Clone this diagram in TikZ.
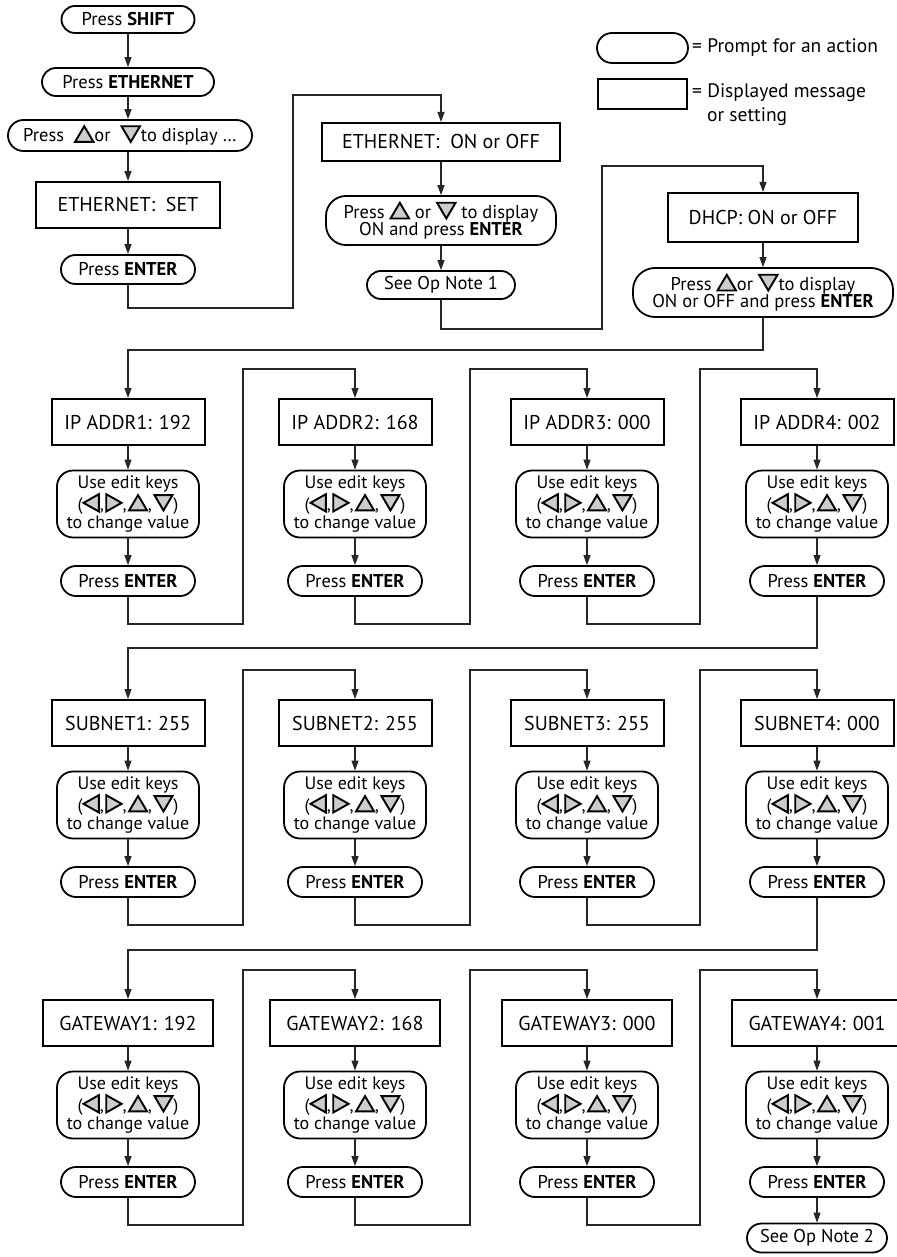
\documentclass[tikz,border=0pt]{standalone}
\usepackage{fontspec}
\setmainfont{PT Sans}
\usetikzlibrary{shapes.misc,arrows.meta}
\tikzset{
  tri/.style={draw=black,line width=1.9pt,fill=black!20,line join=miter,sharp corners,solid},
}
\newcommand{\TriUp}{\tikz[baseline=0pt]\path[tri] (0em,0em)--(1em,0em)--(0.5em,0.85em)--cycle;}
\newcommand{\TriDn}{\tikz[baseline=0pt]\path[tri] (0em,0.85em)--(1em,0.85em)--(0.5em,0em)--cycle;}
\newcommand{\TriLt}{\tikz[baseline=0pt]\path[tri] (0em,0.42em)--(0.85em,0.9em)--(0.85em,-0.06em)--cycle;}
\newcommand{\TriRt}{\tikz[baseline=0pt]\path[tri] (0em,0.9em)--(0.85em,0.42em)--(0em,-0.06em)--cycle;}
\newcommand{\EditKeys}{Use edit keys\\(\TriLt,\hspace{1.5pt}\TriRt,\hspace{1.5pt}\TriUp,\hspace{1.5pt}\TriDn)\\to change value}
\begin{document}
\begin{tikzpicture}[x=1pt,y=-1pt,
  prompt/.style={draw=black,line width=1.8pt,rectangle,rounded corners=14pt,
     minimum height=28pt,inner xsep=0pt,inner ysep=2pt,font=\fontsize{18.5}{19}\selectfont},
  rprompt/.style={draw=black,line width=1.8pt,rectangle,rounded corners=18pt,align=center,
     inner xsep=2pt,inner ysep=1pt,font=\fontsize{18.5}{17}\selectfont},
  msg/.style={draw=black,line width=2pt,rectangle,minimum height=46pt,inner xsep=4pt,
     font=\fontsize{20}{22}\selectfont},
  legtext/.style={anchor=west,font=\fontsize{19.5}{20}\selectfont,inner sep=0pt},
  conn/.style={draw=black!85,line width=1.1pt,-{Triangle[length=10pt,width=7pt]}},
]
\useasboundingbox (0,0) rectangle (896,1257);

% legend
\node[prompt,minimum width=91pt,minimum height=30pt,rounded corners=15pt] (legp) at (642.5,48) {};
\node[legtext] (legpt) at (692,48) {= Prompt for an action};
\node[draw=black,line width=2pt,minimum width=89pt,minimum height=30pt,inner sep=0pt] (legm) at (642.5,94.5) {};
\node[legtext] (legmt) at (692,93) {= Displayed message};
\node[legtext] (legmt2) at (707,117) {or setting};

% column 1
\node[prompt,minimum width=133pt,minimum height=27pt,rounded corners=13.5pt] (shift) at (128,19.5) {Press \textbf{SHIFT}};
\node[prompt,minimum width=172pt] (eth) at (128,82) {Press \textbf{ETHERNET}};
\node[prompt,minimum width=244pt,minimum height=31pt,rounded corners=15.5pt] (disp) at (130,135.5) {Press\ \ \TriUp or\ \ \TriDn to display \dots};
\node[msg,minimum width=184pt] (set) at (128,205) {ETHERNET:\ \ SET};
\node[prompt,minimum width=134pt,minimum height=29pt,rounded corners=14.5pt] (ent0) at (128,269.5) {Press \textbf{ENTER}};
\draw[conn] (shift) -- (eth);
\draw[conn] (eth) -- (eth.south |- disp.north);
\draw[conn] (disp.south -| set.north) -- (set);
\draw[conn] (set) -- (ent0);

% column 2
\node[msg,minimum width=238pt,minimum height=38pt] (e1) at (441,142) {ETHERNET:\ \ ON or OFF};
\node[rprompt,minimum width=230pt,minimum height=49pt,rounded corners=20pt] (e2) at (441,220.5) {Press \TriUp{} or \TriDn{} to display\\ON and press \textbf{ENTER}};
\node[prompt,minimum width=148pt] (e3) at (441,285) {See Op Note 1};
\coordinate (w1) at (293,308);
\coordinate (w2) at (293,95);
\draw[conn] (ent0.south) |- (w1) -- (w2) -| (e1.north);
\draw[conn] (e1) -- (e2);
\draw[conn] (e2) -- (e3);

% column 3
\node[msg,minimum width=190pt,minimum height=49pt] (d1) at (763,217.5) {DHCP: ON or OFF};
\node[rprompt,minimum width=260pt,minimum height=49pt,rounded corners=22pt] (d2) at (763,292.5) {Press \TriUp or \TriDn to display\\ON or OFF and press \textbf{ENTER}};
\coordinate (w3) at (602,329);
\coordinate (w4) at (602,166);
\draw[conn] (e3.south) |- (w3) -- (w4) -| (d1.north);
\draw[conn] (d1) -- (d2);

% rows
\foreach \r/\by/\ey/\ny/\bot/\top/\entry/\w/\labs in {
  1/422/504/581/624/369/350/153/{IP ADDR1: 192,IP ADDR2: 168,IP ADDR3: 000,IP ADDR4: 002},
  2/723/805/882/925/670/648/153/{SUBNET1: 255,SUBNET2: 255,SUBNET3: 255,SUBNET4: 000},
  3/1023/1105/1182/1225/970/950/170/{GATEWAY1: 192,GATEWAY2: 168,GATEWAY3: 000,GATEWAY4: 001}} {
  \foreach \lab [count=\c] in \labs {
    \pgfmathsetmacro{\xx}{{128,355,587,817}[\c-1]}
    \node[msg,minimum width=\w pt] (b\r\c) at (\xx,\by) {\lab};
    \node[rprompt,minimum width=142pt,minimum height=67pt,rounded corners=16pt,font=\fontsize{18}{18}\selectfont] (k\r\c) at (\xx,\ey) {\EditKeys};
    \node[prompt,minimum width=134pt,minimum height=30pt,rounded corners=15pt] (n\r\c) at (\xx,\ny) {Press \textbf{ENTER}};
    \draw[conn] (b\r\c) -- (k\r\c);
    \draw[conn] (k\r\c) -- (n\r\c);
  }
  \foreach \a/\b/\m in {1/2/243,2/3/470,3/4/700} {
    \coordinate (lo\r\a) at (\m,\bot);
    \coordinate (hi\r\a) at (\m,\top);
    \draw[conn] (n\r\a.south) |- (lo\r\a) -- (hi\r\a) -| (b\r\b.north);
  }
  \coordinate (in\r) at (128,\entry);
}
\draw[conn] (d2.south) |- (in1) -- (b11.north);
\draw[conn] (n14.south) |- (in2) -- (b21.north);
\draw[conn] (n24.south) |- (in3) -- (b31.north);

\node[prompt,minimum width=140pt,minimum height=29pt,rounded corners=14.5pt] (op2) at (817,1238) {See Op Note 2};
\draw[conn] (n34) -- (op2);
\end{tikzpicture}
\end{document}
